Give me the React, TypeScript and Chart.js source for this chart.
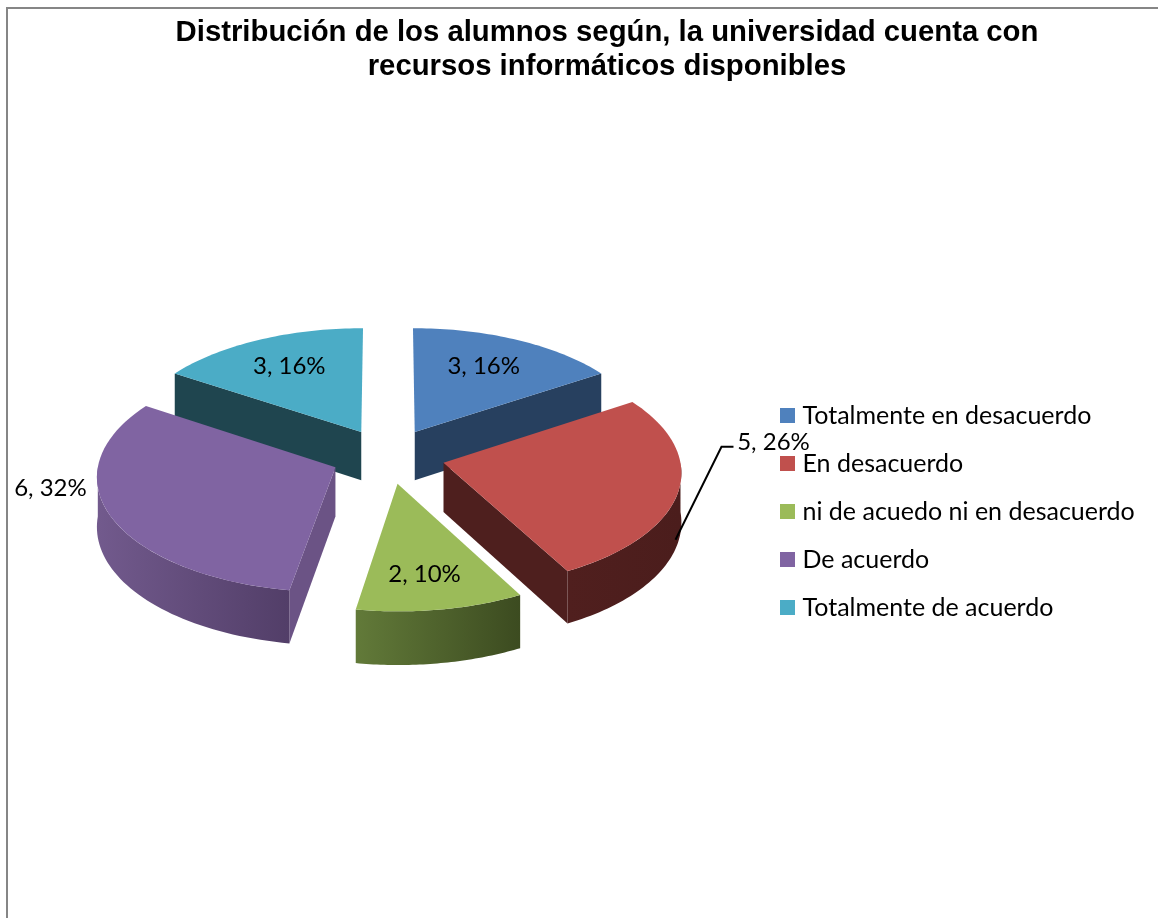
import React, { useEffect, useRef } from "react";
import { Chart, registerables } from "chart.js";

Chart.register(...registerables);

const TITLE_LINES = [
  "Distribución de los alumnos según, la universidad cuenta con",
  "recursos informáticos disponibles",
];
const CATEGORIES = [
  "Totalmente en desacuerdo",
  "En desacuerdo",
  "ni de acuedo ni en desacuerdo",
  "De acuerdo",
  "Totalmente de acuerdo",
];
const VALUES = [3, 5, 2, 6, 3];
const PERCENT_LABELS = [16, 26, 10, 32, 16];
const TOP_COLORS = ["#4f81bd", "#c0504d", "#9bbb59", "#8064a2", "#4bacc6"];
const WALL_LEFT = ["#27405f", "#501f1e", "#627a39", "#725a8d", "#1f454f"];
const WALL_RIGHT = ["#27405f", "#4b1d1c", "#3c4b20", "#523e68", "#1f454f"];
const FACE_COLORS = ["#27405f", "#4e1f1e", "#4d5f2c", "#6b5385", "#1f454f"];

const LABEL_FONT = "24px Lato, 'Open Sans', sans-serif";
const TILT = 0.485;
const PERSPECTIVE = 0.0003;
const DEPTH = 49;
const SEGMENTS = 48;

// Where each data label sits relative to the projected tip of its slice.
const LABEL_SHIFT: [number, number][] = [
  [69, -66],
  [330, -21],
  [27, 91],
  [-285, 21],
  [-72, -66],
];
const LEADER_SHIFT: [number, number][] = [
  [232, 77],
  [278, -16],
  [290, -16],
];

const pie3d = {
  id: "pie3d",
  beforeDraw(chart: any) {
    const { ctx } = chart;
    ctx.save();
    ctx.strokeStyle = "#868686";
    ctx.lineWidth = 2;
    ctx.beginPath();
    ctx.moveTo(7, 918);
    ctx.lineTo(7, 8);
    ctx.lineTo(1158, 8);
    ctx.stroke();
    ctx.restore();
  },
  afterLayout(chart: any) {
    const t = chart.titleBlock;
    if (t) {
      t.left = 0;
      t.right = 1214;
    }
    const l = chart.legend;
    if (l) {
      l.left = 762;
      l.right = 1158;
      l.top = 380;
      l.bottom = 918;
    }
  },
  beforeDatasetDraw() {
    return false;
  },
  afterDatasetsDraw(chart: any) {
    const { ctx } = chart;
    const arcs = chart.getDatasetMeta(0).data;
    const project = (cx: number, cy: number, u: number, v: number, down = 0) => {
      const s = 1 / (1 - PERSPECTIVE * v);
      return [cx + u * s, cy + v * TILT * s + down * s];
    };
    const slices = arcs.map((arc: any, i: number) => {
      const { x, y, startAngle, endAngle, outerRadius } = arc.getProps([
        "x",
        "y",
        "startAngle",
        "endAngle",
        "outerRadius",
      ]);
      const offset = arc.options.offset || 0;
      const mid = (startAngle + endAngle) / 2;
      return {
        i,
        x,
        y,
        a0: startAngle,
        a1: endAngle,
        r: outerRadius,
        ou: Math.cos(mid) * offset,
        ov: Math.sin(mid) * offset,
        sv: Math.sin(mid) * (offset + outerRadius / 2),
      };
    });
    const order = [...slices].sort((p: any, q: any) => p.sv - q.sv);

    const poly = (pts: number[][], fill: any) => {
      ctx.beginPath();
      pts.forEach((p, n) => (n ? ctx.lineTo(p[0], p[1]) : ctx.moveTo(p[0], p[1])));
      ctx.closePath();
      ctx.fillStyle = fill;
      ctx.fill();
    };

    order.forEach((s: any) => {
      const at = (a: number, rr: number, down = 0) =>
        project(s.x, s.y, s.ou + Math.cos(a) * rr, s.ov + Math.sin(a) * rr, down);
      const tip = [project(s.x, s.y, s.ou, s.ov), project(s.x, s.y, s.ou, s.ov, DEPTH)];
      const radialFace = (a: number) =>
        poly([tip[0], at(a, s.r), at(a, s.r, DEPTH), tip[1]], FACE_COLORS[s.i]);

      if (-Math.cos(s.a0) > 0.001) radialFace(s.a0);
      if (Math.cos(s.a1) > 0.001) radialFace(s.a1);

      const from = Math.max(s.a0, 0);
      const to = Math.min(s.a1, Math.PI);
      if (to > from) {
        const upper: number[][] = [];
        const lower: number[][] = [];
        for (let n = 0; n <= SEGMENTS; n++) {
          const a = from + ((to - from) * n) / SEGMENTS;
          upper.push(at(a, s.r));
          lower.push(at(a, s.r, DEPTH));
        }
        const xs = upper.map((p) => p[0]);
        const g = ctx.createLinearGradient(Math.min(...xs), 0, Math.max(...xs), 0);
        g.addColorStop(0, WALL_LEFT[s.i]);
        g.addColorStop(1, WALL_RIGHT[s.i]);
        poly([...upper, ...lower.reverse()], g);
      }

      const top: number[][] = [tip[0]];
      for (let n = 0; n <= SEGMENTS; n++) {
        top.push(at(s.a0 + ((s.a1 - s.a0) * n) / SEGMENTS, s.r));
      }
      poly(top, TOP_COLORS[s.i]);
    });

    ctx.save();
    ctx.font = LABEL_FONT;
    ctx.fillStyle = "#000";
    ctx.textAlign = "center";
    ctx.textBaseline = "middle";
    slices.forEach((s: any) => {
      const [tx, ty] = project(s.x, s.y, s.ou, s.ov);
      const [dx, dy] = LABEL_SHIFT[s.i];
      ctx.fillText(`${VALUES[s.i]}, ${PERCENT_LABELS[s.i]}%`, tx + dx, ty + dy);
      if (s.i === 1) {
        ctx.strokeStyle = "#000";
        ctx.lineWidth = 2;
        ctx.beginPath();
        LEADER_SHIFT.forEach(([lx, ly], n) =>
          n ? ctx.lineTo(tx + lx, ty + ly) : ctx.moveTo(tx + lx, ty + ly)
        );
        ctx.stroke();
      }
    });
    ctx.restore();
  },
};

export default function App() {
  const ref = useRef<HTMLCanvasElement | null>(null);
  useEffect(() => {
    document.body.style.margin = "0";
    const chart = new Chart(ref.current as HTMLCanvasElement, {
      type: "pie",
      data: {
        labels: CATEGORIES,
        datasets: [
          {
            data: VALUES,
            backgroundColor: TOP_COLORS,
            borderWidth: 0,
            offset: 57,
          },
        ],
      },
      options: {
        responsive: false,
        animation: false,
        events: [],
        radius: 236,
        layout: { padding: { left: 0, right: 382, top: 0, bottom: 90 } },
        plugins: {
          tooltip: { enabled: false },
          title: {
            display: true,
            text: TITLE_LINES,
            color: "#000",
            font: { family: "'Liberation Sans', Arial, sans-serif", size: 29.3, weight: "bold", lineHeight: 34 / 29.3 },
            padding: { top: 16, bottom: 0 },
          },
          legend: {
            position: "chartArea",
            align: "start",
            labels: {
              boxWidth: 5,
              boxHeight: 5,
              padding: 23,
              color: "#000",
              font: { family: "Lato, 'Open Sans', sans-serif", size: 25 },
              generateLabels: () =>
                CATEGORIES.map((text, index) => ({
                  text,
                  index,
                  fillStyle: TOP_COLORS[index],
                  strokeStyle: TOP_COLORS[index],
                  lineWidth: 10,
                  lineJoin: "miter",
                  hidden: false,
                })),
            },
          },
        },
      } as any,
      plugins: [pie3d],
    });
    return () => chart.destroy();
  }, []);
  return <canvas ref={ref} width={1158} height={918} style={{ display: "block" }} />;
}
